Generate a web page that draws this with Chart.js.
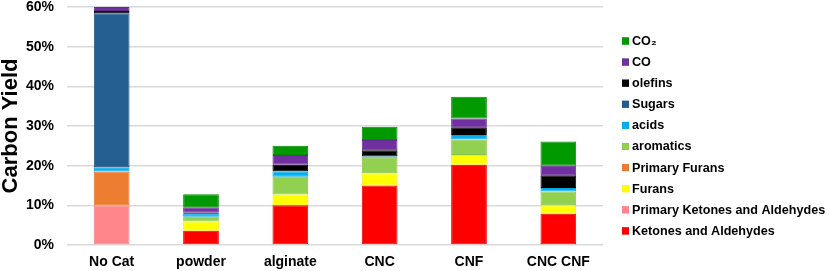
<!DOCTYPE html>
<html>
<head>
<meta charset="utf-8">
<script src="https://cdn.jsdelivr.net/npm/chart.js@4/dist/chart.umd.min.js"></script>
<style>
  html, body { margin: 0; padding: 0; background: #fff; }
  #wrap { width: 829px; height: 271px; }
</style>
</head>
<body>
<div id="wrap"><canvas id="chart" width="829" height="271"></canvas></div>
<script>
const categories = ["No Cat", "powder", "alginate", "CNC", "CNF", "CNC CNF"];

// carbon yield (%), stacked bottom to top
const ketones = [0, 3.6, 10.0, 15.0, 20.2, 7.9];
const primaryKetones = [10.0, 0, 0, 0, 0, 0];
const furans = [0, 2.3, 2.7, 3.1, 2.5, 2.1];
const primaryFurans = [8.5, 0, 0, 0, 0, 0];
const aromatics = [0, 1.2, 4.5, 3.9, 3.9, 3.5];
const acids = [1.1, 0.8, 1.4, 0.3, 1.1, 0.9];
const sugars = [38.8, 0, 0, 0, 0, 0];
const olefins = [0.6, 0.2, 1.6, 1.6, 2.0, 3.2];
const co = [1.0, 1.4, 2.5, 2.6, 2.2, 2.4];
const co2 = [0, 3.3, 2.3, 3.3, 5.5, 6.1];

const yTicks = [0, 10, 20, 30, 40, 50, 60];

const FONT = "Liberation Sans, Arial, sans-serif";

const mk = (label, data, color, border) => ({
  label: label,
  data: data,
  backgroundColor: color,
  borderColor: border || color,
  borderWidth: 1,
  borderSkipped: false
});

// legend drawn by hand so it sits where the original one does (CO2 on top)
const sideLegend = {
  id: "sideLegend",
  afterDraw(chart) {
    const c = chart.ctx;
    const sets = chart.data.datasets.slice().reverse();
    c.save();
    c.font = "bold 12.6px " + FONT;
    c.textBaseline = "middle";
    c.textAlign = "left";
    sets.forEach((ds, i) => {
      const y = 41 + i * 21.1;
      c.fillStyle = ds.backgroundColor;
      c.fillRect(622, y - 3.5, 7, 7);
      c.strokeStyle = ds.borderColor;
      c.lineWidth = 0.5;
      c.strokeRect(622.25, y - 3.25, 6.5, 6.5);
      c.fillStyle = "#000";
      c.fillText(ds.label, 632, y + 0.5);
    });
    c.restore();
  }
};

const ctx = document.getElementById("chart").getContext("2d");
const chart = new Chart(ctx, {
  type: "bar",
  data: {
    labels: categories,
    datasets: [
      mk("Ketones and Aldehydes", ketones, "#ff0000", "#f00000"),
      mk("Primary Ketones and Aldehydes", primaryKetones, "#ff878c", "#f98085"),
      mk("Furans", furans, "#ffff00", "#f0f000"),
      mk("Primary Furans", primaryFurans, "#ed7d31", "#e0752c"),
      mk("aromatics", aromatics, "#92d050", "#86c448"),
      mk("acids", acids, "#00b0f0", "#00a4e0"),
      mk("Sugars", sugars, "#255e91", "#1f4e79"),
      mk("olefins", olefins, "#000000"),
      mk("CO", co, "#7030a0", "#642a90"),
      mk("CO\u2082", co2, "#009900", "#008d00")
    ]
  },
  plugins: [sideLegend],
  options: {
    responsive: false,
    animation: false,
    layout: { padding: { top: 0, right: 226, left: 0, bottom: 0 } },
    datasets: {
      bar: { categoryPercentage: 1, barPercentage: 0.4 }
    },
    plugins: {
      tooltip: { enabled: false },
      legend: { display: false }
    },
    scales: {
      x: {
        stacked: true,
        grid: { display: false, drawTicks: false },
        border: { display: false },
        afterFit: (scale) => { scale.height = 26; },
        ticks: {
          color: "#000",
          padding: 9,
          font: { family: FONT, size: 14, weight: "bold" }
        }
      },
      y: {
        stacked: true,
        min: 0,
        max: 60,
        afterBuildTicks: (axis) => { axis.ticks = yTicks.map(v => ({ value: v })); },
        afterFit: (scale) => {
          scale.width = 67;
          scale.paddingTop = 7;
          scale.paddingBottom = 0;
        },
        grid: { color: "#d9d9d9", lineWidth: 1.5, drawTicks: false },
        border: { display: false },
        ticks: {
          color: "#000",
          padding: 13,
          callback: (v) => v + "%",
          font: { family: FONT, size: 14, weight: "bold" }
        },
        title: {
          display: true,
          text: "Carbon Yield",
          color: "#000",
          padding: { top: -2, bottom: 0 },
          font: { family: FONT, size: 22, weight: "bold" }
        }
      }
    }
  }
});
</script>
</body>
</html>
